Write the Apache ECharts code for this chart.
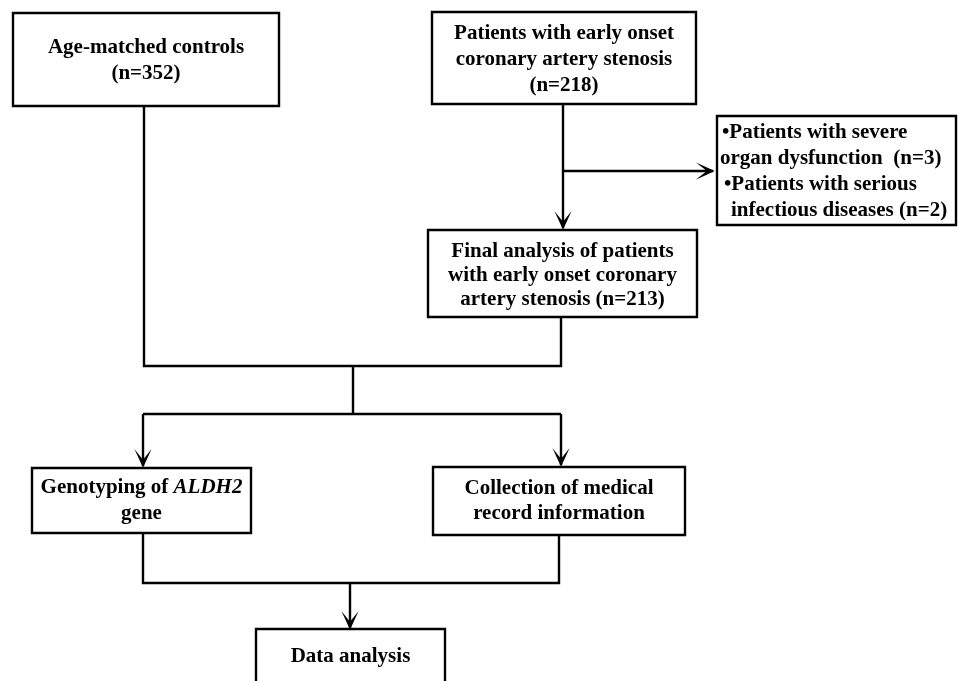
<!DOCTYPE html>
<html>
<head>
<meta charset="utf-8">
<script src="https://cdn.jsdelivr.net/npm/echarts@6/dist/echarts.min.js"></script>
<style>
html,body{margin:0;padding:0;background:#fff;}
#chart{width:958px;height:681px;}
</style>
</head>
<body>
<div id="chart"></div>
<script>
// ---- content (texts & counts) ----
const nControls = 352;
const nPatients = 218;
const nOrgan = 3;
const nInfect = 2;
const nFinal = 213;

const boxTexts = [
  ['Age-matched controls', '(n=' + nControls + ')'],
  ['Patients with early onset', 'coronary artery stenosis', '(n=' + nPatients + ')'],
  ['\u2022Patients with severe', 'organ dysfunction  (n=' + nOrgan + ')', '\u2022Patients with serious', 'infectious diseases (n=' + nInfect + ')'],
  ['Final analysis of patients', 'with early onset coronary', 'artery stenosis (n=' + nFinal + ')'],
  ['Genotyping of {i|ALDH2}', 'gene'],
  ['Collection of medical', 'record information'],
  ['Data analysis']
];

// ---- layout (positions in a 958 x 681 value space) ----
const boxRects = [
  [13, 13, 279, 106],
  [432, 12, 696, 104],
  [717, 116, 956, 225],
  [428, 230, 697, 317],
  [32, 468, 251, 533],
  [433, 467, 685, 535],
  [256, 629, 445, 700]
];
const textLineY = [
  [48, 74],
  [34, 60, 86],
  [133, 159, 185, 211],
  [252, 276, 300],
  [488, 514],
  [489, 514],
  [657]
];
const leftTextX = { 2: [722, 720, 724, 731] };

const connectors = [
  { pts: [[144, 106], [144, 366], [561, 366], [561, 317]], arrow: false },
  { pts: [[563, 104], [563, 228]], arrow: true },
  { pts: [[563, 171], [713, 171]], arrow: true },
  { pts: [[353, 366], [353, 414]], arrow: false },
  { pts: [[143, 414], [561, 414]], arrow: false },
  { pts: [[143, 414], [143, 466]], arrow: true },
  { pts: [[561, 414], [561, 465]], arrow: true },
  { pts: [[143, 533], [143, 583], [559, 583], [559, 535]], arrow: false },
  { pts: [[350, 583], [350, 628]], arrow: true }
];

const FONT = 'bold 21px "Liberation Serif"';
const LW = 2.4;

function renderBox(params, api) {
  const i = params.dataIndex;
  const b = boxRects[i];
  const p0 = api.coord([b[0], b[1]]);
  const p1 = api.coord([b[2], b[3]]);
  const children = [{
    type: 'rect',
    shape: { x: p0[0], y: p0[1], width: p1[0] - p0[0], height: p1[1] - p0[1] },
    style: { fill: '#fff', stroke: '#000', lineWidth: LW }
  }];
  const lines = boxTexts[i];
  const cx = (b[0] + b[2]) / 2;
  lines.forEach(function (t, k) {
    const left = leftTextX[i];
    const pt = api.coord([left ? left[k] : cx, textLineY[i][k]]);
    children.push({
      type: 'text',
      x: pt[0], y: pt[1],
      style: {
        text: t,
        font: FONT,
        fill: '#000',
        align: left ? 'left' : 'center',
        verticalAlign: 'middle',
        rich: {
          i: { fontStyle: 'italic', fontWeight: 'bold', fontSize: 21, fontFamily: 'Liberation Serif', fill: '#000' }
        }
      }
    });
  });
  return { type: 'group', children: children };
}

function renderConnector(params, api) {
  const c = connectors[params.dataIndex];
  const pts = c.pts.map(function (p) { return api.coord(p); });
  const children = [{
    type: 'polyline',
    shape: { points: pts },
    style: { stroke: '#000', lineWidth: LW, fill: null }
  }];
  if (c.arrow) {
    const a = pts[pts.length - 2], e = pts[pts.length - 1];
    const dx = e[0] - a[0], dy = e[1] - a[1];
    const len = Math.sqrt(dx * dx + dy * dy);
    const ux = dx / len, uy = dy / len;
    const L = 12, W = 5.5, N = 5;
    children.push({
      type: 'polygon',
      shape: { points: [
        [e[0] - ux * L - uy * W, e[1] - uy * L + ux * W],
        [e[0], e[1]],
        [e[0] - ux * L + uy * W, e[1] - uy * L - ux * W],
        [e[0] - ux * N, e[1] - uy * N]
      ] },
      style: { stroke: '#000', lineWidth: 1.4, fill: '#000', lineJoin: 'miter' }
    });
  }
  return { type: 'group', children: children };
}

const chart = echarts.init(document.getElementById('chart'), null, { renderer: 'canvas' });
chart.setOption({
  backgroundColor: '#fff',
  animation: false,
  grid: { left: 0, right: 0, top: 0, bottom: 0 },
  xAxis: { type: 'value', min: 0, max: 958, show: false },
  yAxis: { type: 'value', min: 0, max: 681, inverse: true, show: false },
  series: [
    {
      type: 'custom',
      z: 1,
      renderItem: renderConnector,
      data: connectors.map(function (c) { return [c.pts[0][0], c.pts[0][1]]; }),
      encode: { x: 0, y: 1 },
      silent: true
    },
    {
      type: 'custom',
      z: 2,
      renderItem: renderBox,
      data: boxRects.map(function (r) { return r.slice(); }),
      encode: { x: [0, 2], y: [1, 3] },
      silent: true
    }
  ]
});
</script>
</body>
</html>
